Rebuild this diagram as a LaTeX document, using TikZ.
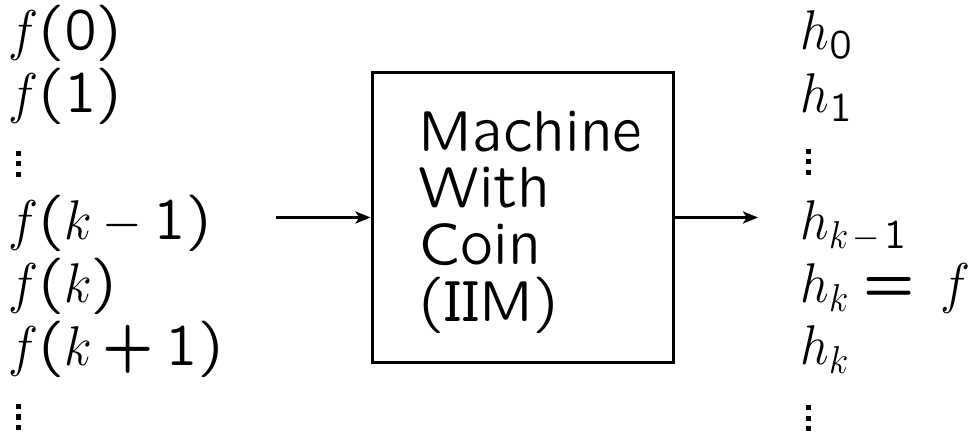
\documentclass[tikz,border=0pt]{standalone}
\usetikzlibrary{arrows.meta}
% SliTeX sans (lcmss8) for text, digits and brackets
\DeclareFontFamily{OT1}{slt}{}
\DeclareFontShape{OT1}{slt}{m}{n}{<-> lcmss8}{}
\SetSymbolFont{operators}{normal}{OT1}{slt}{m}{n}
\SetSymbolFont{operators}{bold}{OT1}{slt}{m}{n}
\DeclareMathSizes{21.5}{21.5}{15}{11}
\newcommand\sltfont{\fontencoding{OT1}\fontfamily{slt}\selectfont}
% slightly tall lettering
\newcommand\tall[1]{\scalebox{0.98}[1.08]{#1}}
% column ellipsis made of three square dots
\newcommand\sqdot{\hbox{\rule{2pt}{2pt}}}
\newcommand\coldots{\vbox{\baselineskip=4.2pt\lineskiplimit=-10pt\sqdot\sqdot\sqdot}}
\begin{document}
\begin{tikzpicture}[x=0.4pt,y=-0.4pt,
  txt/.style={inner sep=0pt,anchor=base west,font=\sltfont\fontsize{21.5}{26}\selectfont},
  machine/.style={draw,line width=1.2pt,minimum width=120.4pt,minimum height=115.6pt,inner sep=0pt},
  flow/.style={line width=1.2pt,-{Stealth[length=6pt,width=4.8pt,inset=1.5pt]}}]
\useasboundingbox (0,0) rectangle (977,437);
% inputs
\node[txt] (f0)  at (8,50)  {\tall{$f(0)$}};
\node[txt] (f1)  at (8,113) {\tall{$f(1)$}};
\node[txt] (fd1) at (16,177) {\coldots};
\node[txt] (fk1) at (8,240) {\tall{$f(k-1)$}};
\node[txt] (fk)  at (8,303) {\tall{$f(k)$}};
\node[txt] (fkp) at (8,366) {\tall{$f(k+1)$}};
\node[txt] (fd2) at (16,430) {\coldots};
% machine
\node[machine] (box) at (522.5,217.5) {};
\node[txt] (m1) at (418,152) {\tall{Machine}};
\node[txt] (m2) at (418,208) {\tall{With}};
\node[txt] (m3) at (418,265) {\tall{Coin}};
\node[txt] (m4) at (418,322) {\tall{(IIM)}};
% outputs
\node[txt] (h0)  at (800,50)  {\tall{$h_0$}};
\node[txt] (h1)  at (800,113) {\tall{$h_1$}};
\node[txt] (hd1) at (805,175) {\coldots};
\node[txt] (hk1) at (800,240) {\tall{$h_{k\mskip2mu-\mskip2mu1}$}};
\node[txt] (hk)  at (800,303) {\tall{$h_k=\mskip4mu f$}};
\node[txt] (hkk) at (800,365) {\tall{$h_k$}};
\node[txt] (hd2) at (805,431) {\coldots};
% connectors
\coordinate (in)  at (276,217.5);
\coordinate (out) at (758,217.5);
\draw[flow] (in) -- (box.west);
\draw[flow] (box.east) -- (out);
\end{tikzpicture}
\end{document}
